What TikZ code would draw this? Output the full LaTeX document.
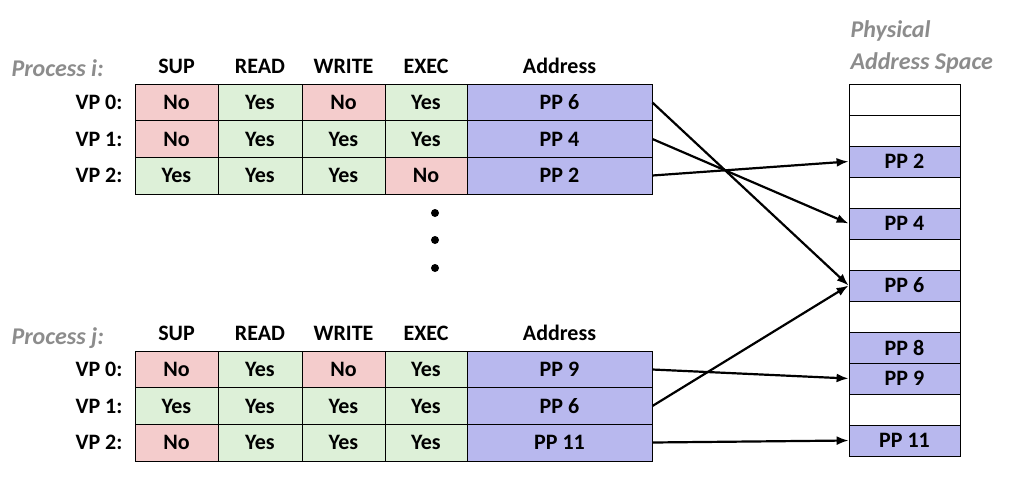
\documentclass[tikz,border=0pt]{standalone}
\usepackage{fontspec}
\setmainfont{Carlito}
\definecolor{pk}{HTML}{F4CCCC}
\definecolor{gr}{HTML}{DDF0D8}
\definecolor{bl}{HTML}{B8B8EE}
\definecolor{gy}{HTML}{8C8C8C}
\usetikzlibrary{arrows.meta}
\begin{document}
\begin{tikzpicture}[x=1pt,y=-1pt,
  cell/.style={draw=black,line width=0.8pt,minimum height=37pt,inner sep=0pt,font=\fontsize{22}{24}\selectfont\bfseries},
  pcell/.style={draw=black,line width=0.8pt,fill=white,minimum width=111pt,minimum height=31pt,inner sep=0pt,font=\fontsize{22}{24}\selectfont\bfseries},
  hd/.style={font=\fontsize{22}{24}\selectfont\bfseries},
  pl/.style={font=\fontsize{24}{32}\selectfont\bfseries\itshape,text=gy},
  arr/.style={-{Latex[length=12pt,width=9pt]},line width=2.2pt}]
\useasboundingbox (0,0) rectangle (1036,488);
% physical
\foreach \i/\t/\c in {0//white,1//white,2/PP 2/bl,3//white,4/PP 4/bl,5//white,6/PP 6/bl,7//white,8/PP 8/bl,9/PP 9/bl,10//white,11/PP 11/bl}
  \node[pcell,fill=\c] (m\i) at (904.5,{99.5+31*\i}) {\t};
\node[pl,align=left,anchor=west] (pas) at (847,47) {Physical\\Address Space};
% tables
\foreach \T/\y/\py/\p in {i/84/68/Process i:,j/351/338/Process j:}{
  \node[pl,anchor=west] (pr\T) at (8,\py) {\p};
  \foreach \h/\x in {SUP/176.5,READ/260,WRITE/343.5,EXEC/426,Address/559.5}
    \node[hd] (h\T\h) at (\x,\y-18) {\h};
}
\newcommand\myrow[8]{%
  \node[hd,anchor=east] (l#1) at (126,#2) {#3};
  \node[cell,minimum width=83pt,fill=#4] (s#1) at (176.5,#2) {\ifnum\pdfstrcmp{#4}{pk}=0 No\else Yes\fi};
  \node[cell,minimum width=84pt,fill=gr] (r#1) at (260,#2) {Yes};
  \node[cell,minimum width=83pt,fill=#5] (w#1) at (343.5,#2) {\ifnum\pdfstrcmp{#5}{pk}=0 No\else Yes\fi};
  \node[cell,minimum width=82pt,fill=#6] (e#1) at (426,#2) {\ifnum\pdfstrcmp{#6}{pk}=0 No\else Yes\fi};
  \node[cell,minimum width=185pt,fill=bl] (a#1) at (559.5,#2) {#7};
  \draw[arr] (a#1.east) -- (#8);
}
\myrow{i0}{102.5}{VP 0:}{pk}{pk}{gr}{PP 6}{m6.west}
\myrow{i1}{139}{VP 1:}{pk}{gr}{gr}{PP 4}{m4.west}
\myrow{i2}{175.5}{VP 2:}{gr}{gr}{pk}{PP 2}{m2.west}
\myrow{j0}{369.5}{VP 0:}{pk}{pk}{gr}{PP 9}{m9.west}
\myrow{j1}{406}{VP 1:}{gr}{gr}{gr}{PP 6}{m6.west}
\myrow{j2}{442.5}{VP 2:}{pk}{gr}{gr}{PP 11}{m11.west}
\foreach \yy in {213,240,268} \fill (435,\yy) circle (4);
\end{tikzpicture}
\end{document}
